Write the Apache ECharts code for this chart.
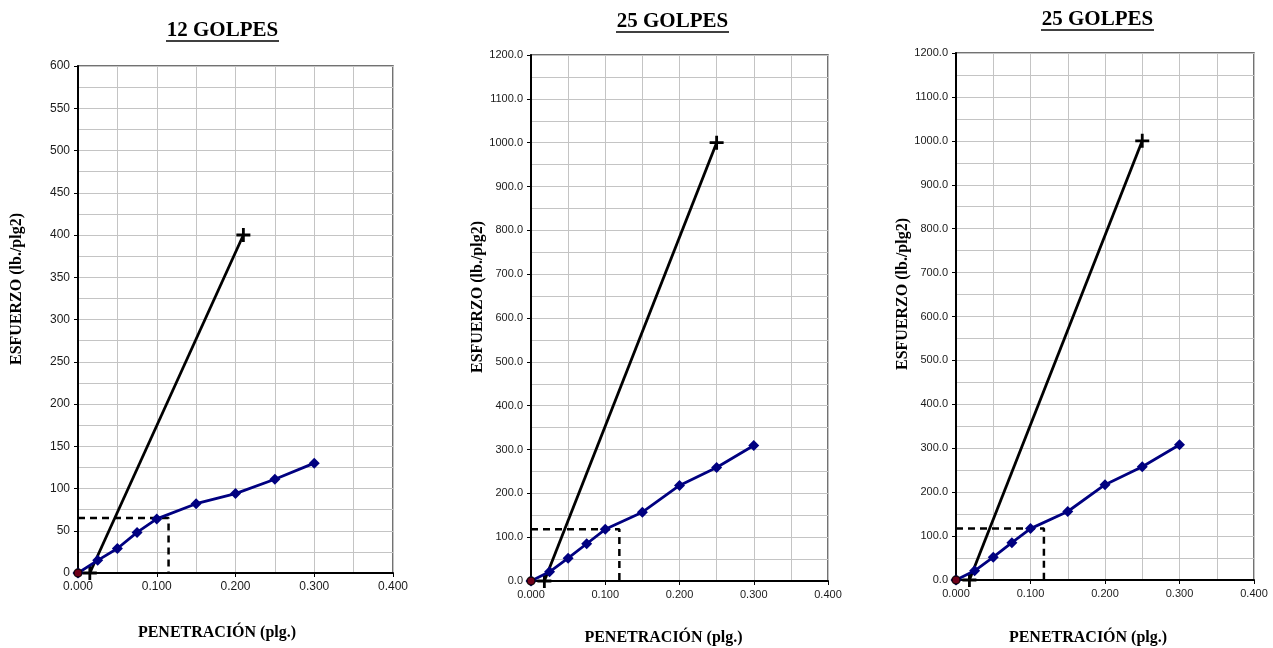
<!DOCTYPE html>
<html>
<head>
<meta charset="utf-8">
<script src="https://cdn.jsdelivr.net/npm/echarts@6/dist/echarts.min.js"></script>
<style>
html,body{margin:0;padding:0;background:#fff;}
#chart{width:1273px;height:648px;}
</style>
</head>
<body>
<div id="chart"></div>
<script>
// ---- Data ----
const titles = ['12 GOLPES', '25 GOLPES', '25 GOLPES'];
const yAxisName = 'ESFUERZO (lb./plg2)';
const xAxisName = 'PENETRACIÓN (plg.)';

const penetracion = [0, 0.025, 0.05, 0.075, 0.1, 0.15, 0.2, 0.25, 0.3];
const esfuerzo12 = [0, 15, 29, 48, 64, 82, 94, 111, 130];
const esfuerzo25a = [0, 21, 52, 85, 118, 157, 218, 259, 309];
const esfuerzo25b = [0, 21, 52, 85, 117, 156, 217, 258, 308];

const tangX12 = [0.015, 0.21];
const tangY12 = [0, 400];
const tangX25 = [0.018, 0.25];
const tangY25 = [0, 1000];

const corrX12 = [0, 0.115, 0.115];
const corrY12 = [65, 65, 0];
const corrX25a = [0, 0.119, 0.119];
const corrY25a = [118, 118, 0];
const corrX25b = [0, 0.118, 0.118];
const corrY25b = [117, 117, 0];

const yMax = [600, 1200, 1200];
const yStep = [50, 100, 100];
const xMax = 0.4;
const xStep = 0.1;

// ---- Layout ----
const grids = [
  {left: 78, top: 66, width: 315, height: 507},
  {left: 531, top: 55, width: 297, height: 526},
  {left: 956, top: 53, width: 298, height: 527}
];
const tickFont = [12, 11, 11];
const titlePos = [[222.5, 31, 113, 41], [672.5, 22, 113, 32], [1097.5, 20, 113, 30]];
const yNamePos = [[17, 289], [478, 297], [903, 294]];
const xNamePos = [[217, 633], [663.5, 638], [1088, 638]];

const zip = (xs, ys) => xs.map((x, i) => [x, ys[i]]);
const plusPath = 'path://M4,0H6V4H10V6H6V10H4V6H0V4H4Z';

const datasets = [
  {main: esfuerzo12, tx: tangX12, ty: tangY12, cx: corrX12, cy: corrY12, dec: 0},
  {main: esfuerzo25a, tx: tangX25, ty: tangY25, cx: corrX25a, cy: corrY25a, dec: 1},
  {main: esfuerzo25b, tx: tangX25, ty: tangY25, cx: corrX25b, cy: corrY25b, dec: 1}
];

const option = {
  animation: false,
  backgroundColor: '#ffffff',
  grid: grids.map(g => Object.assign({show: true, borderColor: '#444', borderWidth: 1.5, backgroundColor: 'transparent'}, g)),
  xAxis: grids.map((g, i) => ({
    type: 'value', gridIndex: i, min: 0, max: xMax, interval: xStep,
    axisLine: {show: true, onZero: false, lineStyle: {color: '#000', width: 2}},
    axisTick: {show: true, length: 4, lineStyle: {color: '#000', width: 1}},
    axisLabel: {fontFamily: 'Liberation Sans, Arial', fontSize: tickFont[i], color: '#1a1a1a', margin: 8,
      formatter: v => v.toFixed(3)},
    splitLine: {show: true, lineStyle: {color: '#c4c4c4', width: 1}},
    minorTick: {show: false, splitNumber: 2},
    minorSplitLine: {show: true, lineStyle: {color: '#c4c4c4', width: 1}}
  })),
  yAxis: grids.map((g, i) => ({
    type: 'value', gridIndex: i, min: 0, max: yMax[i], interval: yStep[i],
    axisLine: {show: true, onZero: false, lineStyle: {color: '#000', width: 2}},
    axisTick: {show: true, length: 4, lineStyle: {color: '#000', width: 1}},
    axisLabel: {fontFamily: 'Liberation Sans, Arial', fontSize: tickFont[i], color: '#1a1a1a', margin: 8,
      formatter: v => v.toFixed(datasets[i].dec)},
    splitLine: {show: true, lineStyle: {color: '#c4c4c4', width: 1}},
    minorTick: {show: false, splitNumber: 2},
    minorSplitLine: {show: true, lineStyle: {color: '#c4c4c4', width: 1}}
  })),
  series: [],
  graphic: []
};

datasets.forEach((d, i) => {
  option.series.push({
    type: 'line', xAxisIndex: i, yAxisIndex: i, data: zip(d.cx, d.cy),
    symbol: 'none', lineStyle: {color: '#000', width: 2.5, type: [7, 5]}, z: 3
  });
  option.series.push({
    type: 'line', xAxisIndex: i, yAxisIndex: i, data: zip(d.tx, d.ty),
    symbol: plusPath, symbolSize: 14, itemStyle: {color: '#000'},
    lineStyle: {color: '#000', width: 2.8}, z: 4
  });
  option.series.push({
    type: 'line', xAxisIndex: i, yAxisIndex: i, data: zip(penetracion, d.main),
    symbol: 'diamond', symbolSize: 11, itemStyle: {color: '#000080'},
    lineStyle: {color: '#000080', width: 2.8}, z: 5
  });
  option.series.push({
    type: 'scatter', xAxisIndex: i, yAxisIndex: i, data: [[penetracion[0], d.main[0]]],
    symbol: 'circle', symbolSize: 8, itemStyle: {color: '#8b0000', borderColor: '#000', borderWidth: 1.5}, z: 6
  });

  const tp = titlePos[i];
  option.graphic.push({
    type: 'text', x: tp[0], y: tp[1],
    style: {text: titles[i], font: 'bold 21px "Liberation Serif", "Times New Roman", serif', fill: '#000', align: 'center', verticalAlign: 'middle'},
    silent: true
  });
  option.graphic.push({
    type: 'line', shape: {x1: tp[0] - tp[2] / 2, y1: tp[3], x2: tp[0] + tp[2] / 2, y2: tp[3]},
    style: {stroke: '#000', lineWidth: 1.5}, silent: true
  });
  option.graphic.push({
    type: 'text', x: yNamePos[i][0], y: yNamePos[i][1], rotation: Math.PI / 2,
    style: {text: yAxisName, font: 'bold 16px "Liberation Serif", "Times New Roman", serif', fill: '#000', align: 'center', verticalAlign: 'middle'},
    silent: true
  });
  option.graphic.push({
    type: 'text', x: xNamePos[i][0], y: xNamePos[i][1],
    style: {text: xAxisName, font: 'bold 16px "Liberation Serif", "Times New Roman", serif', fill: '#000', align: 'center', verticalAlign: 'middle'},
    silent: true
  });
});

const chart = echarts.init(document.getElementById('chart'), null, {renderer: 'canvas'});
chart.setOption(option);
</script>
</body>
</html>
